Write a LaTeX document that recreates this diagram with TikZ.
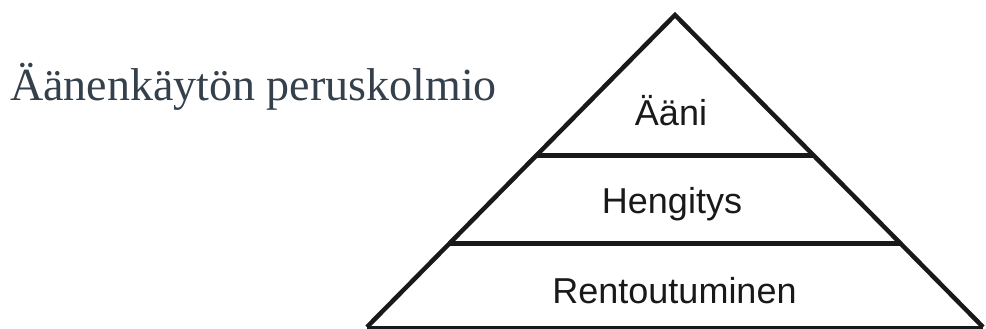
\documentclass[tikz,border=0pt]{standalone}
\usepackage{fontspec}
\setmainfont{Liberation Serif}
\newfontfamily\labelfont{Liberation Sans}
\usetikzlibrary{calc}
\definecolor{titlegray}{HTML}{34404B}
\begin{document}
\begin{tikzpicture}[x=1pt, y=-1pt,
    level/.style={font=\labelfont\fontsize{36}{40}\selectfont, text=black!90, anchor=base, inner sep=0pt},
    edge/.style={line width=4.5pt, line join=miter, color=black!90}]
    \useasboundingbox (0,0) rectangle (986,329);

    % Title
    \node[font=\fontsize{46}{52}\selectfont, text=titlegray, anchor=base west, inner sep=0pt]
      (title) at (10,101) {Äänenkäytön peruskolmio};

    % Corners of the triangle
    \coordinate (apex) at (675,15);
    \coordinate (left) at (367,327);
    \coordinate (right) at (983,327);

    % Outline
    \draw[edge] (left) -- (apex) -- (right);
    \draw[edge, line width=3pt] (left) -- (right);

    % Dividing lines
    \coordinate (l1) at ($(apex)!0.4505!(left)$);
    \coordinate (r1) at ($(apex)!0.4505!(right)$);
    \coordinate (l2) at ($(apex)!0.7316!(left)$);
    \coordinate (r2) at ($(apex)!0.7316!(right)$);
    \draw[edge] (l1) -- (r1);
    \draw[edge] (l2) -- (r2);

    % Levels
    \node[level] (aani) at (671,125) {Ääni};
    \node[level] (hengitys) at (672,213) {Hengitys};
    \node[level] (rento) at (674.5,303) {Rentoutuminen};
\end{tikzpicture}
\end{document}
